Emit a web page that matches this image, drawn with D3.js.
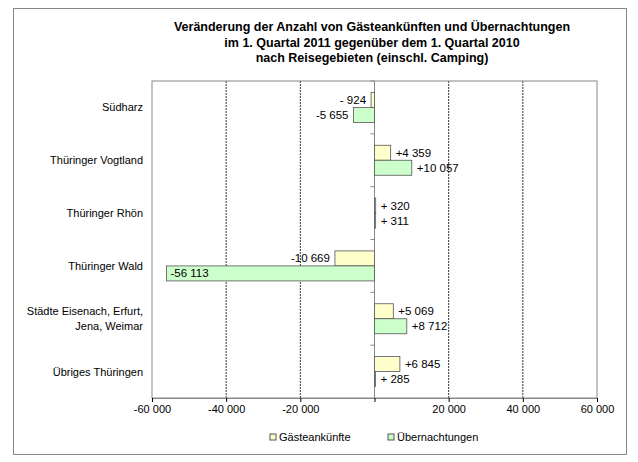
<!DOCTYPE html><html><head><meta charset="utf-8">
<script src="https://cdn.jsdelivr.net/npm/d3@7"></script>
<style>body{margin:0;background:#fff}svg{font-family:Arial,"Liberation Sans",sans-serif}</style></head><body>
<svg id="c" width="638" height="462"></svg>
<script>
const categories=["Südharz","Thüringer Vogtland","Thüringer Rhön","Thüringer Wald","Städte Eisenach, Erfurt,|Jena, Weimar","Übriges Thüringen"];
const gaeste=[-924,4359,320,-10669,5069,6845];
const uebern=[-5655,10057,311,-56113,8712,285];
const gaesteLabels=["- 924","+4 359","+ 320","-10 669","+5 069","+6 845"];
const uebernLabels=["-5 655","+10 057","+ 311","-56 113","+8 712","+ 285"];
const ticks=[-60000,-40000,-20000,0,20000,40000,60000];
const tickLabels=["-60 000","-40 000","-20 000","","20 000","40 000","60 000"];
const svg=d3.select("#c");
svg.append("rect").attr("x",13.5).attr("y",8.5).attr("width",613).attr("height",446).attr("fill","#fff").attr("stroke","#888");
const L=152,R=597,T=81,B=398;
const x=d3.scaleLinear().domain([-60000,60000]).range([L,R]);
const y=d3.scaleBand().domain(categories).range([T,B]);
const title=["Veränderung der Anzahl von Gästeankünften und Übernachtungen","im 1. Quartal 2011 gegenüber dem 1. Quartal 2010","nach Reisegebieten (einschl. Camping)"];
title.forEach((t,i)=>svg.append("text").attr("x",372).attr("y",31+i*15.5).attr("text-anchor","middle").attr("font-size",12.5).attr("font-weight","bold").text(t));
ticks.slice(1,-1).forEach(t=>{if(t!==0)svg.append("line").attr("x1",x(t)).attr("x2",x(t)).attr("y1",T).attr("y2",B).attr("stroke","#000").attr("stroke-dasharray","2,1").attr("stroke-width",0.8);});
svg.append("rect").attr("x",L).attr("y",T).attr("width",R-L).attr("height",B-T).attr("fill","none").attr("stroke","#888");
const ax=svg.append("g").attr("transform",`translate(0,${B})`).call(d3.axisBottom(x).tickValues(ticks).tickFormat((d,i)=>tickLabels[i]).tickSize(4));
ax.select(".domain").attr("stroke","#888");ax.selectAll("text").attr("font-size",11).attr("fill","#000");
// zero axis
svg.append("line").attr("x1",x(0)).attr("x2",x(0)).attr("y1",T).attr("y2",B).attr("stroke","#888");
categories.forEach(c=>{svg.append("line").attr("x1",x(0)-4).attr("x2",x(0)).attr("y1",y(c)).attr("y2",y(c)).attr("stroke","#888");});
const bh=15;
function bars(vals,labels,off,fill){
 vals.forEach((v,i)=>{const c=categories[i];const y0=y(c)+y.bandwidth()/2+off;
  svg.append("rect").attr("x",Math.min(x(0),x(v))).attr("y",y0).attr("width",Math.max(1,Math.abs(x(v)-x(0)))).attr("height",bh).attr("fill",fill).attr("stroke","#555").attr("stroke-width",0.8);
  const inside=Math.abs(v)>40000;
  const tx=inside?x(v)+4:(v<0?x(v)-5:x(v)+5);
  svg.append("text").attr("x",tx).attr("y",y0+bh/2+4).attr("font-size",11.5).attr("text-anchor",inside?"start":(v<0?"end":"start")).text(labels[i]);
 });}
bars(gaeste,gaesteLabels,-bh,"#ffffcc");
bars(uebern,uebernLabels,0,"#ccffcc");
categories.forEach(c=>{const parts=c.split("|");const yc=y(c)+y.bandwidth()/2;
 parts.forEach((p,j)=>svg.append("text").attr("x",143).attr("y",yc+4+(j-(parts.length-1)/2)*15).attr("text-anchor","end").attr("font-size",11).text(p));});
[["Gästeankünfte","#ffffcc",270],["Übernachtungen","#ccffcc",388]].forEach(([t,f,lx])=>{
 svg.append("rect").attr("x",lx).attr("y",434).attr("width",6).attr("height",6).attr("fill",f).attr("stroke","#555");
 svg.append("text").attr("x",lx+9).attr("y",441).attr("font-size",11).text(t);});
</script></body></html>
